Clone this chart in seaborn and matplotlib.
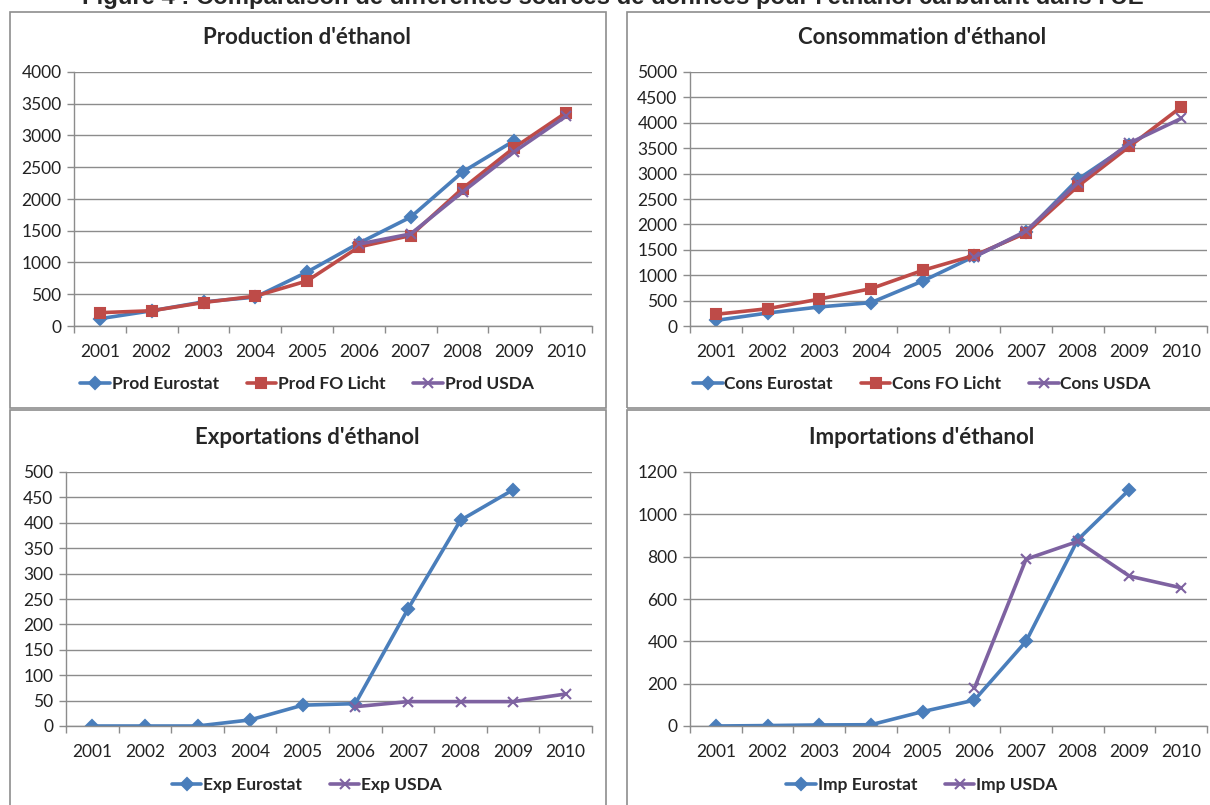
import numpy as np
import pandas as pd
import matplotlib
matplotlib.use("Agg")
import matplotlib.pyplot as plt
from matplotlib.lines import Line2D
from matplotlib.patches import Rectangle
import seaborn as sns

# Data
years = [2001, 2002, 2003, 2004, 2005, 2006, 2007, 2008, 2009, 2010]
nan = np.nan

prod_eurostat = [115, 240, 380, 455, 850, 1305, 1715, 2425, 2920, nan]
prod_folicht = [210, 240, 370, 470, 710, 1245, 1425, 2165, 2810, 3360]
prod_usda = [nan, nan, nan, nan, nan, 1290, 1450, 2110, 2745, 3305]

cons_eurostat = [110, 255, 375, 460, 885, 1370, 1850, 2885, 3570, nan]
cons_folicht = [230, 340, 530, 735, 1095, 1390, 1830, 2750, 3535, 4310]
cons_usda = [nan, nan, nan, nan, nan, 1360, 1870, 2820, 3600, 4085]

exp_eurostat = [0, 0, 0, 12, 41, 44, 230, 405, 465, nan]
exp_usda = [nan, nan, nan, nan, nan, 38, 48, 48, 48, 63]

imp_eurostat = [0, 2, 5, 6, 68, 122, 400, 880, 1117, nan]
imp_usda = [nan, nan, nan, nan, nan, 178, 788, 872, 708, 653]

BLUE = "#4A7EBB"
RED = "#BE4B48"
PURPLE = "#7E62A1"
GRID = "#8C8C8C"

sns.set_theme(style="white")
plt.rcParams["font.family"] = ["Lato", "DejaVu Sans"]

W, H = 1210, 805
fig = plt.figure(figsize=(W / 100, H / 100), dpi=100)


def fx(px):
    return px / W


def fy(py):
    return 1 - py / H


# chart frames (Excel-like boxes)
frames = [(10, 12, 606, 408), (627, 12, 1215, 408),
          (10, 410, 606, 810), (627, 410, 1215, 810)]
for x0, y0, x1, y1 in frames:
    fig.patches.append(Rectangle((fx(x0), fy(y1)), fx(x1 - x0), (y1 - y0) / H,
                                 transform=fig.transFigure, fill=False,
                                 edgecolor="#8E8E8E", linewidth=1.2))

# page heading, cut off by the top edge as in the source document
fig.text(fx(613), fy(4), "Figure 4 : Comparaison de différentes sources de données pour l'éthanol carburant dans l'UE",
         ha="center", va="baseline", fontsize=17.2, fontweight="bold",
         family=["Liberation Sans", "DejaVu Sans"])

styles = {
    "Eurostat": dict(color=BLUE, marker="D", markersize=6),
    "FO Licht": dict(color=RED, marker="s", markersize=7),
    "USDA": dict(color=PURPLE, marker="x", markersize=7),
}

panels = [
    dict(box=(74, 72, 592, 326), title="Production d'éthanol", prefix="Prod",
         series={"Eurostat": prod_eurostat, "FO Licht": prod_folicht, "USDA": prod_usda},
         ymax=4000, step=500, tcx=307, tcy=37, lgy=384),
    dict(box=(690, 72, 1207, 326), title="Consommation d'éthanol", prefix="Cons",
         series={"Eurostat": cons_eurostat, "FO Licht": cons_folicht, "USDA": cons_usda},
         ymax=5000, step=500, tcx=922, tcy=37, lgy=384),
    dict(box=(66, 472, 592, 726), title="Exportations d'éthanol", prefix="Exp",
         series={"Eurostat": exp_eurostat, "USDA": exp_usda},
         ymax=500, step=50, tcx=307, tcy=437, lgy=785),
    dict(box=(690, 472, 1207, 726), title="Importations d'éthanol", prefix="Imp",
         series={"Eurostat": imp_eurostat, "USDA": imp_usda},
         ymax=1200, step=200, tcx=922, tcy=437, lgy=785),
]

for p in panels:
    x0, y0, x1, y1 = p["box"]
    ax = fig.add_axes([fx(x0), fy(y1), fx(x1 - x0), (y1 - y0) / H])

    handles = []
    for name, vals in p["series"].items():
        st = styles[name]
        df = pd.DataFrame({"year": years, "value": vals}).dropna()
        sns.lineplot(data=df, x="year", y="value", ax=ax, color=st["color"],
                     marker=st["marker"], markersize=st["markersize"],
                     markeredgecolor=st["color"], markeredgewidth=1.5,
                     linewidth=2.6, legend=False)
        handles.append(Line2D([], [], color=st["color"], marker=st["marker"],
                              markersize=st["markersize"], markeredgecolor=st["color"],
                              markeredgewidth=1.5, linewidth=2.6,
                              label=f"{p['prefix']} {name}"))

    ax.set_xlim(2000.5, 2010.5)
    ax.set_ylim(0, p["ymax"])
    ax.set_yticks(np.arange(0, p["ymax"] + 1, p["step"]))
    ax.set_xticks(years)
    ax.set_xticks(np.arange(2000.5, 2011, 1), minor=True)
    ax.set_xlabel("")
    ax.set_ylabel("")
    ax.yaxis.grid(True, color=GRID, linewidth=1.0)
    ax.set_axisbelow(True)
    for side in ["top", "right"]:
        ax.spines[side].set_visible(False)
    for side in ["left", "bottom"]:
        ax.spines[side].set_color(GRID)
        ax.spines[side].set_linewidth(1.0)
    ax.tick_params(axis="x", which="major", length=0, pad=13, labelsize=12.5,
                   labelcolor="#222222")
    ax.tick_params(axis="x", which="minor", length=5, width=1.0, color=GRID,
                   direction="out", bottom=True)
    ax.tick_params(axis="y", length=5, width=1.0, color=GRID, direction="out",
                   left=True, pad=4, labelsize=12.5, labelcolor="#222222")

    fig.text(fx(p["tcx"]), fy(p["tcy"]), p["title"], ha="center", va="center",
             fontsize=16, fontweight="bold")

    fig.legend(handles=handles, loc="center", ncol=len(handles),
               bbox_to_anchor=(fx(p["tcx"]), fy(p["lgy"])),
               frameon=False, handlelength=1.7, columnspacing=1.6,
               handletextpad=0.1, prop=dict(size=12.5, weight="bold"))

fig.savefig("out.png", dpi=100)
